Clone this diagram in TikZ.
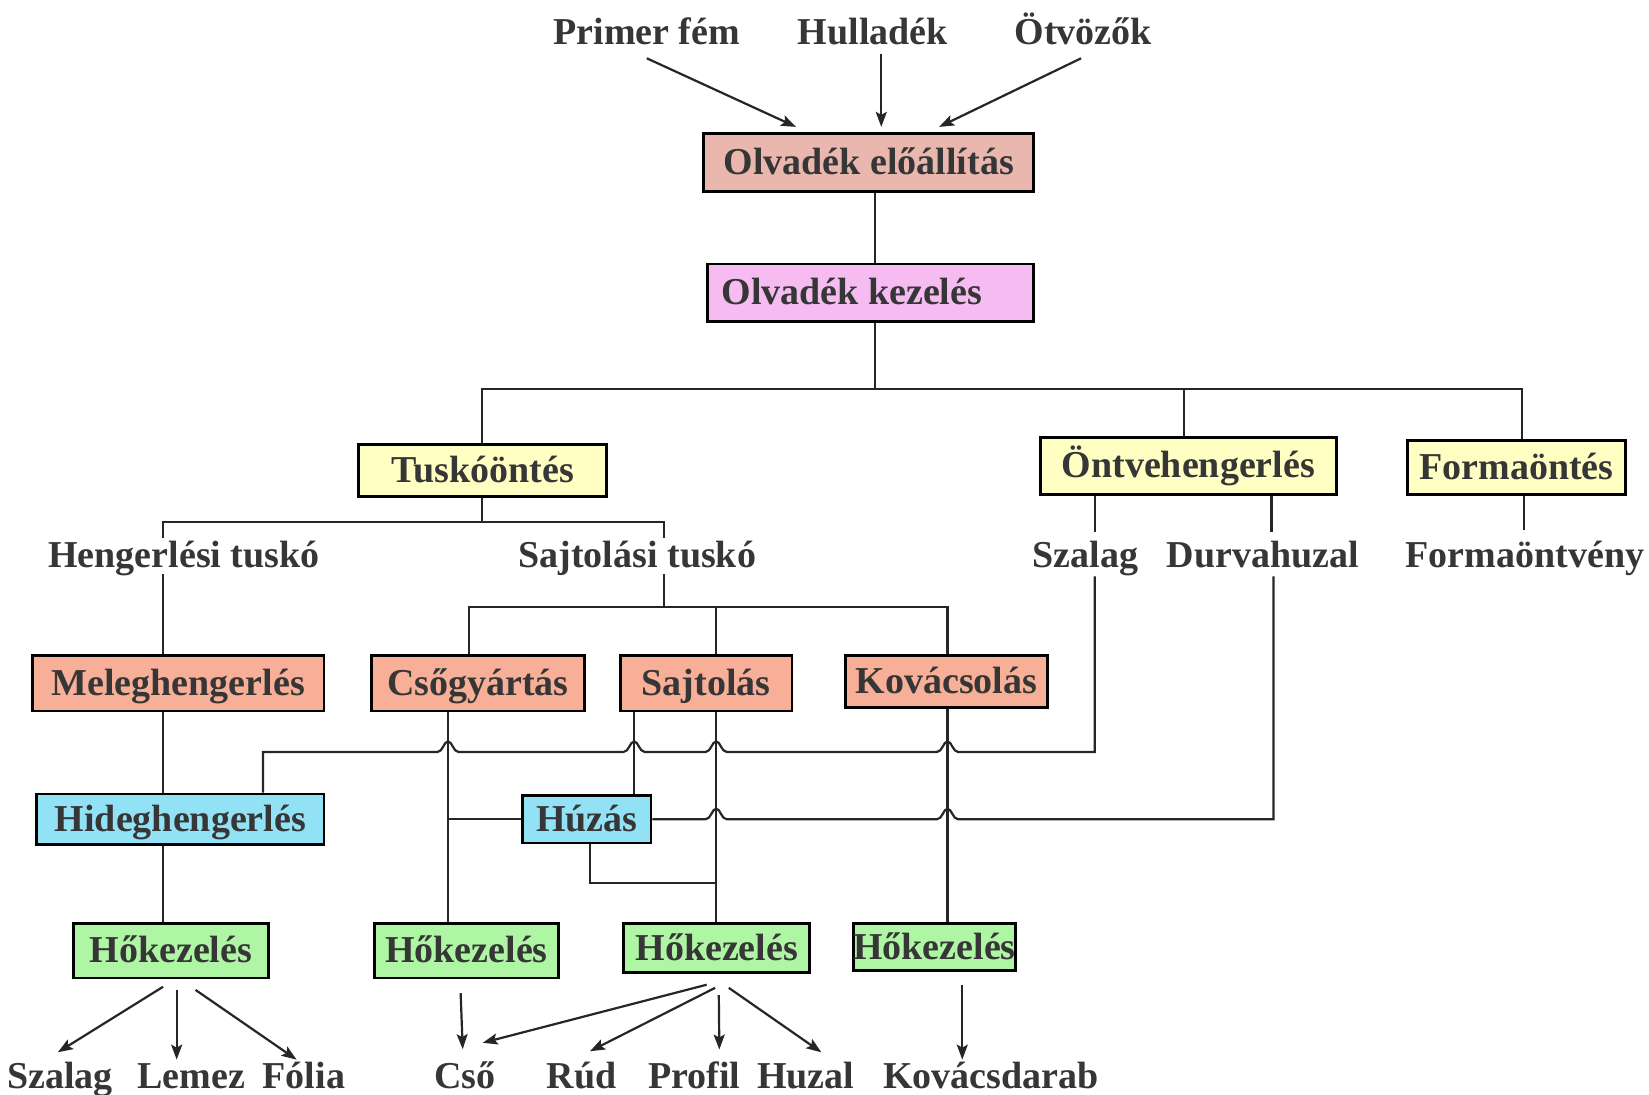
\documentclass[tikz,border=0pt]{standalone}
\usepackage{fontspec}
\setmainfont{Liberation Serif}
\usetikzlibrary{calc,arrows.meta}
\definecolor{cElo}{HTML}{E9B7AE}
\definecolor{cKez}{HTML}{F6BCF2}
\definecolor{cYel}{HTML}{FFFFC4}
\definecolor{cSal}{HTML}{F7AF98}
\definecolor{cBlu}{HTML}{93E1F5}
\definecolor{cGrn}{HTML}{AEF5A4}
\definecolor{cTxt}{HTML}{363636}
\begin{document}
\begin{tikzpicture}[x=0.52585pt,y=-0.52585pt,
  every node/.style={font=\fontsize{19}{22}\selectfont\bfseries, text=cTxt},
  bx/.style 2 args={minimum width=#1*0.52585pt, minimum height=#2*0.52585pt},
  box/.style={draw=black, line width=1.4pt, inner sep=0pt, text height=12.5pt, text depth=0.4pt},
  lbl/.style={inner sep=0pt, text height=13.3pt, text depth=4.2pt},
  ln/.style={draw=black!85, line width=1.1pt},
  arr/.style={ln, -{Stealth[length=7.5pt,width=5.5pt,inset=1.5pt]}},
  hopl/.style={insert path={.. controls +(-5,0) and +(4,0) .. ++(-10,-10) .. controls +(-4,0) and +(5,0) .. ++(-10,10)}}
]
\fill[white] (0,0) rectangle (1568,1041);
\useasboundingbox (0,0) rectangle (1568,1041);

% top labels
\node[lbl] (primer) at (615,34) {Primer fém};
\node[lbl] (hull) at (830,34) {Hulladék};
\node[lbl] (otv) at (1030,34) {Ötvözők};

% boxes
\node[box, fill=cElo, bx={314}{55}] (elo) at (826,154.5) {Olvadék előállítás};
\node[box, fill=cKez, bx={310}{55}] (kez) at (828,278.5) {Olvadék kezelés\hspace*{19pt}};
\node[box, fill=cYel, bx={236}{49}] (tusko) at (459,447.5) {Tuskóöntés};
\node[box, fill=cYel, bx={282}{54}] (ontve) at (1130,443) {Öntvehengerlés};
\node[box, fill=cYel, bx={208}{51}] (forma) at (1442,444.5) {Formaöntés};
\node[box, fill=cSal, bx={277}{53}] (meleg) at (169.5,649.5) {Meleghengerlés};
\node[box, fill=cSal, bx={203}{53}] (csogy) at (454.5,649.5) {Csőgyártás};
\node[box, fill=cSal, bx={163}{53}] (sajt) at (671.5,649.5) {Sajtolás};
\node[box, fill=cSal, bx={192}{50}] (kovacs) at (900,648) {Kovácsolás};
\node[box, fill=cBlu, bx={273}{48}] (hideg) at (171.5,779) {Hideghengerlés};
\node[box, fill=cBlu, bx={122}{45}] (huzas) at (558,779) {Húzás};
\node[box, fill=cGrn, bx={185}{52}] (hok1) at (162.5,904) {Hőkezelés};
\node[box, fill=cGrn, bx={175}{52}] (hok2) at (443.5,904) {Hőkezelés};
\node[box, fill=cGrn, bx={177}{47}] (hok3) at (681.5,901.5) {Hőkezelés};
\node[box, fill=cGrn, bx={143}{45}] (hok4) at (888.5,900.5) {Hőkezelés};

% middle labels
\node[lbl] (hengt) at (175,531) {Hengerlési tuskó};
\node[lbl] (sajtt) at (606,531) {Sajtolási tuskó};
\node[lbl] (szal1) at (1032,531) {Szalag};
\node[lbl] (durva) at (1201,531) {Durvahuzal};
\node[lbl] (fov) at (1450,531) {Formaöntvény};

% bottom labels
\node[lbl] (szal2) at (57,1026) {Szalag};
\node[lbl] (lemez) at (182,1026) {Lemez};
\node[lbl] (folia) at (289,1026) {Fólia};
\node[lbl] (cso) at (442,1026) {Cső};
\node[lbl] (rud) at (553,1026) {Rúd};
\node[lbl] (profil) at (660,1026) {Profil};
\node[lbl] (huzal) at (766,1026) {Huzal};
\node[lbl] (kovd) at (942,1026) {Kovácsdarab};

% top arrows
\draw[arr] ($(primer.south)+(0,4.4)$) -- ($(elo.north)+(-69,-5)$);
\draw[arr] ($(hull.south)+(8,0)$) -- ($(elo.north)+(12,-5)$);
\draw[arr] ($(otv.south)+(-2,4.4)$) -- ($(elo.north)+(67,-5)$);

% trunk
\coordinate (bus) at (832,370);
\draw[ln] (832,0 |- elo.south) -- (832,0 |- kez.north);
\draw[ln] (832,0 |- kez.south) -- (bus);
\draw[ln] (458,0 |- tusko.north) |- (bus) -| (1447,0 |- forma.north);
\draw[ln] (1126,370) -- (1126,0 |- ontve.north);

% tuskoontes branches
\coordinate (tb) at (458,496);
\draw[ln] (458,0 |- tusko.south) -- (tb);
\draw[ln] (155,512) |- (tb) -| (631,512);
\draw[ln] (155,546) -- (155,0 |- meleg.north);
\coordinate (sb) at (631,577);
\draw[ln] (631,546) -- (sb);
\draw[ln] (446,0 |- csogy.north) |- (sb) -| (901,0 |- kovacs.north);
\draw[ln] (681,577) -- (681,0 |- sajt.north);

% ontvehengerles / formaontes legs
\draw[ln] (1041,0 |- ontve.south) -- (1041,506);
\draw[ln] (1209,0 |- ontve.south) -- (1209,506);
\draw[ln] (1449,0 |- forma.south) -- (1449,504);

% vertical process lines
\draw[ln] (155,0 |- meleg.south) -- (155,0 |- hideg.north);
\draw[ln] (155,0 |- hideg.south) -- (155,0 |- hok1.north);
\draw[ln] (426,0 |- csogy.south) -- (426,0 |- hok2.north);
\draw[ln] (426,0 |- huzas.west) -- (huzas.west);
\draw[ln] (603,0 |- sajt.south) -- (603,0 |- huzas.north);
\draw[ln] (681,0 |- sajt.south) -- (681,0 |- hok3.north);
\draw[ln] (561,0 |- huzas.south) |- (681,840);
\draw[ln] (901,0 |- kovacs.south) -- (901,0 |- hok4.north);

% Szalag -> Hideghengerles with hops
\draw[ln] (1041,548) -- (1041,715) -- (911,715) [hopl] -- (691,715) [hopl] -- (613,715) [hopl] -- (436,715) [hopl] -- (250,715) -- (250,0 |- hideg.north);
% Durvahuzal -> Huzas with hops
\draw[ln] (1211,548) -- (1211,779) -- (911,779) [hopl] -- (691,779) [hopl] -- (huzas.east);

% bottom arrows
\draw[arr] ($(hok1.south)+(-7.5,7)$) -- ($(szal2.north)+(-2,-8.4)$);
\draw[arr] ($(hok1.south)+(5.5,10)$) -- ($(lemez.north)+(-14,-1.4)$);
\draw[arr] ($(hok1.south)+(23.5,10)$) -- ($(folia.north)+(-7,-1.4)$);
\draw[arr] ($(hok2.south)+(-5.5,13)$) -- ($(cso.north)+(-2,-11.4)$);
\draw[arr] ($(hok3.south)+(-9.5,10)$) -- ($(cso.north)+(17,-17.4)$);
\draw[arr] ($(hok3.south)+(-1.5,13)$) -- ($(rud.north)+(8,-9.4)$);
\draw[arr] ($(hok3.south)+(2,20)$) -- ($(profil.north)+(24,-11)$);
\draw[arr] ($(hok3.south)+(11.5,13)$) -- ($(huzal.north)+(15,-8.4)$);
\draw[arr] ($(hok4.south)+(26.5,12)$) -- ($(kovd.north)+(-27,-1.4)$);
\end{tikzpicture}
\end{document}
